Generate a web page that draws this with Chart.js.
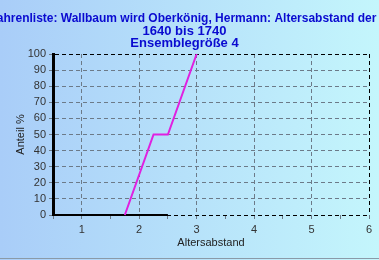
<!DOCTYPE html>
<html><head><meta charset="utf-8">
<script src="https://cdn.jsdelivr.net/npm/chart.js@4/dist/chart.umd.min.js"></script>
<style>html,body{margin:0;padding:0;overflow:hidden;}#wrap{width:379px;height:260px;position:relative;}</style>
</head><body><div id="wrap"><canvas id="c" width="379" height="260"></canvas></div>
<script>
const titleLines = ["Wahrenliste: Wallbaum wird Oberkönig, Hermann: Altersabstand der I", "1640 bis 1740", "Ensemblegröße 4"];
const xValues = [1.75, 2.25, 2.5, 2.75, 3];
const shareValues = [0, 50, 50, 75, 100];
const baseX = [0.5, 2.5];
const baseY = [0, 0];
const xTitle = "Altersabstand";
const yTitle = "Anteil %";

const bgPlugin = {
  id: 'bg',
  beforeDraw(chart) {
    const ctx = chart.ctx;
    const g = ctx.createLinearGradient(0, 0, chart.width, 0);
    g.addColorStop(0, '#a9cdf8');
    g.addColorStop(1, '#c4f6fc');
    ctx.save();
    ctx.fillStyle = g;
    ctx.fillRect(0, 0, chart.width, chart.height);
    ctx.fillStyle = '#8a9aa8';
    ctx.fillRect(0, chart.height - 2, chart.width, 1);
    ctx.restore();
  }
};

const titlePlugin = {
  id: 'wideTitle',
  afterDraw(chart) {
    const ctx = chart.ctx;
    ctx.save();
    ctx.fillStyle = '#0a0ad0';
    ctx.textAlign = 'center';
    ctx.textBaseline = 'middle';
    const cx = 184.5;
    titleLines.forEach((t, i) => {
      ctx.font = (i === 0 ? 'bold 12px' : 'bold 13px') + ' "Liberation Sans"';
      ctx.fillText(t, cx, 19 + i * 12);
    });
    ctx.restore();
  }
};

new Chart(document.getElementById('c'), {
  type: 'line',
  data: {
    datasets: [
      {
        data: xValues.map((x, i) => ({x: x, y: shareValues[i]})),
        borderColor: '#e020e0', borderWidth: 2, pointRadius: 0, tension: 0, clip: false
      },
      {
        data: baseX.map((x, i) => ({x: x, y: baseY[i]})),
        borderColor: '#000000', borderWidth: 2, pointRadius: 0, tension: 0, clip: false
      }
    ]
  },
  options: {
    responsive: false, animation: false,
    layout: {padding: {left: 0, right: 10, top: 54, bottom: 0}},
    plugins: {
      legend: {display: false}, tooltip: {enabled: false},
      title: {display: false}
    },
    scales: {
      x: {
        type: 'linear', min: 0.5, max: 6,
        afterFit(s) { s.height = 45; },
        afterBuildTicks(s) { const t = []; for (let v = 0.5; v <= 6.001; v += 0.5) t.push({value: v}); s.ticks = t; },
        ticks: {
          color: '#333', font: {family: 'Liberation Sans', size: 11}, padding: 4, maxRotation: 0, autoSkip: false,
          callback: (v) => Number.isInteger(v) ? String(v) : ''
        },
        grid: {
          color: (c) => (c.tick && c.tick.value === 6) ? '#000' : (c.tick && Number.isInteger(c.tick.value) ? '#6c7a88' : 'rgba(0,0,0,0)'),
          tickColor: '#6c7a88', tickLength: 4, lineWidth: 1
        },
        border: {display: false, dash: [4, 3]},
        title: {display: true, text: xTitle, color: '#222', font: {family: 'Liberation Sans', size: 11}, padding: {top: 0, bottom: 10}}
      },
      y: {
        min: 0, max: 100,
        afterFit(s) { s.width = 53; },
        ticks: {stepSize: 10, autoSkip: false, color: '#333', font: {family: 'Liberation Sans', size: 11}, padding: 3},
        grid: {
          color: (c) => (c.tick && (c.tick.value === 100 || c.tick.value === 0)) ? '#000' : '#6c7a88',
          tickColor: '#6c7a88', tickLength: 4, lineWidth: 1
        },
        border: {display: true, color: '#000', width: 3, dash: [4, 3]},
        title: {display: true, text: yTitle, color: '#222', font: {family: 'Liberation Sans', size: 11}, padding: {top: 14, bottom: 0}}
      }
    }
  },
  plugins: [bgPlugin, titlePlugin]
});
</script></body></html>
